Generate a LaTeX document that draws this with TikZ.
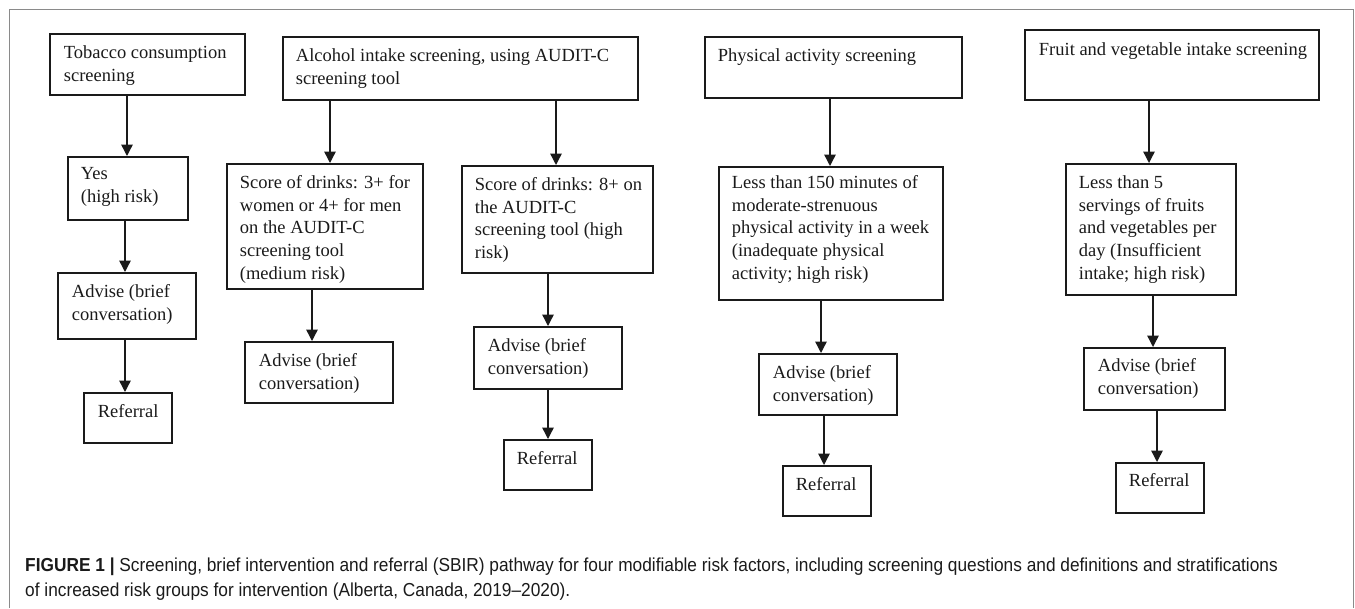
\documentclass[tikz,border=0pt]{standalone}
\usepackage{fontspec}
\setmainfont{Liberation Serif}
\newfontfamily\capfont[FakeStretch=0.92]{Liberation Sans}
\usetikzlibrary{arrows.meta}
\newcommand{\bt}[5]{\parbox[t][#2pt][t]{#1pt}{\raggedright\leftskip=#3pt\relax\vspace*{#4pt}\strut #5}}
\definecolor{framec}{HTML}{8A8A8A}
\definecolor{ink}{HTML}{1A1A1A}
\tikzset{
  box/.style={draw=ink, line width=1.8pt, anchor=north west, inner sep=0pt, text=ink,
    font=\fontsize{18.5}{22.6}\selectfont},
  arr/.style={draw=ink, line width=1.4pt, -{Triangle[length=11.5pt,width=11.5pt]}},
  captxt/.style={anchor=base west, inner sep=0pt, text=ink, font=\capfont\fontsize{18.8}{22}\selectfont}
}
\begin{document}
\begin{tikzpicture}[x=1pt,y=-1pt]
\useasboundingbox (0,0) rectangle (1355,608);
\draw[framec, line width=1pt] (9,608) -- (9,9) -- (1353,9) -- (1353,608);
% top row
\node[box] (tob) at (49,33) {\bt{195}{61}{14}{9}{Tobacco consumption\\screening}};
\node[box] (alc) at (282,36) {\bt{355}{63}{13}{9}{Alcohol intake screening, using AUDIT-C\\screening tool}};
\node[box] (phys) at (704,36) {\bt{257}{61}{13}{9}{Physical activity screening}};
\node[box] (fruit) at (1024,29) {\bt{294}{70}{14}{10}{Fruit and vegetable intake screening}};
% second row
\node[box] (yes) at (67,156) {\bt{120}{63}{13}{7}{Yes\\(high risk)}};
\node[box] (med) at (226,163) {\bt{196}{125}{13}{9}{Score of drinks: 3+ for\\women or 4+ for men\\on the AUDIT-C\\screening tool\\(medium risk)}};
\node[box] (high) at (461,165) {\bt{191}{107}{13}{9}{Score of drinks: 8+ on\\the AUDIT-C\\screening tool (high\\risk)}};
\node[box] (plow) at (718,166) {\bt{224}{133}{13}{6}{Less than 150 minutes of\\moderate-strenuous\\physical activity in a week\\(inadequate physical\\activity; high risk)}};
\node[box] (fhigh) at (1065,163) {\bt{170}{131}{13}{9}{Less than 5\\servings of fruits\\and vegetables per\\day (Insufficient\\intake; high risk)}};
% advise
\node[box] (adv1) at (57,272) {\bt{138}{66}{14}{9}{Advise (brief\\conversation)}};
\node[box] (adv2) at (244,341) {\bt{148}{61}{14}{9}{Advise (brief\\conversation)}};
\node[box] (adv3) at (473,326) {\bt{148}{62}{14}{9}{Advise (brief\\conversation)}};
\node[box] (adv4) at (758,353) {\bt{138}{61}{14}{9}{Advise (brief\\conversation)}};
\node[box] (adv5) at (1083,347) {\bt{141}{62}{14}{8}{Advise (brief\\conversation)}};
% referral
\node[box] (ref1) at (83,392) {\bt{88}{50}{14}{9}{Referral}};
\node[box] (ref3) at (503,439) {\bt{88}{50}{13}{9}{Referral}};
\node[box] (ref4) at (782,465) {\bt{88}{50}{13}{9}{Referral}};
\node[box] (ref5) at (1115,462) {\bt{88}{50}{13}{8}{Referral}};
% arrows
\draw[arr] (127,0 |- tob.south) -- (127,0 |- yes.north);
\draw[arr] (125,0 |- yes.south) -- (125,0 |- adv1.north);
\draw[arr] (125,0 |- adv1.south) -- (125,0 |- ref1.north);
\draw[arr] (330,0 |- alc.south) -- (330,0 |- med.north);
\draw[arr] (556,0 |- alc.south) -- (556,0 |- high.north);
\draw[arr] (312,0 |- med.south) -- (312,0 |- adv2.north);
\draw[arr] (548,0 |- high.south) -- (548,0 |- adv3.north);
\draw[arr] (548,0 |- adv3.south) -- (548,0 |- ref3.north);
\draw[arr] (830,0 |- phys.south) -- (830,0 |- plow.north);
\draw[arr] (821,0 |- plow.south) -- (821,0 |- adv4.north);
\draw[arr] (824,0 |- adv4.south) -- (824,0 |- ref4.north);
\draw[arr] (1149,0 |- fruit.south) -- (1149,0 |- fhigh.north);
\draw[arr] (1153,0 |- fhigh.south) -- (1153,0 |- adv5.north);
\draw[arr] (1157,0 |- adv5.south) -- (1157,0 |- ref5.north);
% caption
\node[captxt] (cap1) at (25,571) {\textbf{FIGURE 1 |} Screening, brief intervention and referral (SBIR) pathway for four modifiable risk factors, including screening questions and definitions and stratifications};
\node[captxt] (cap2) at (25,596) {of increased risk groups for intervention (Alberta, Canada, 2019–2020).};
\end{tikzpicture}
\end{document}
